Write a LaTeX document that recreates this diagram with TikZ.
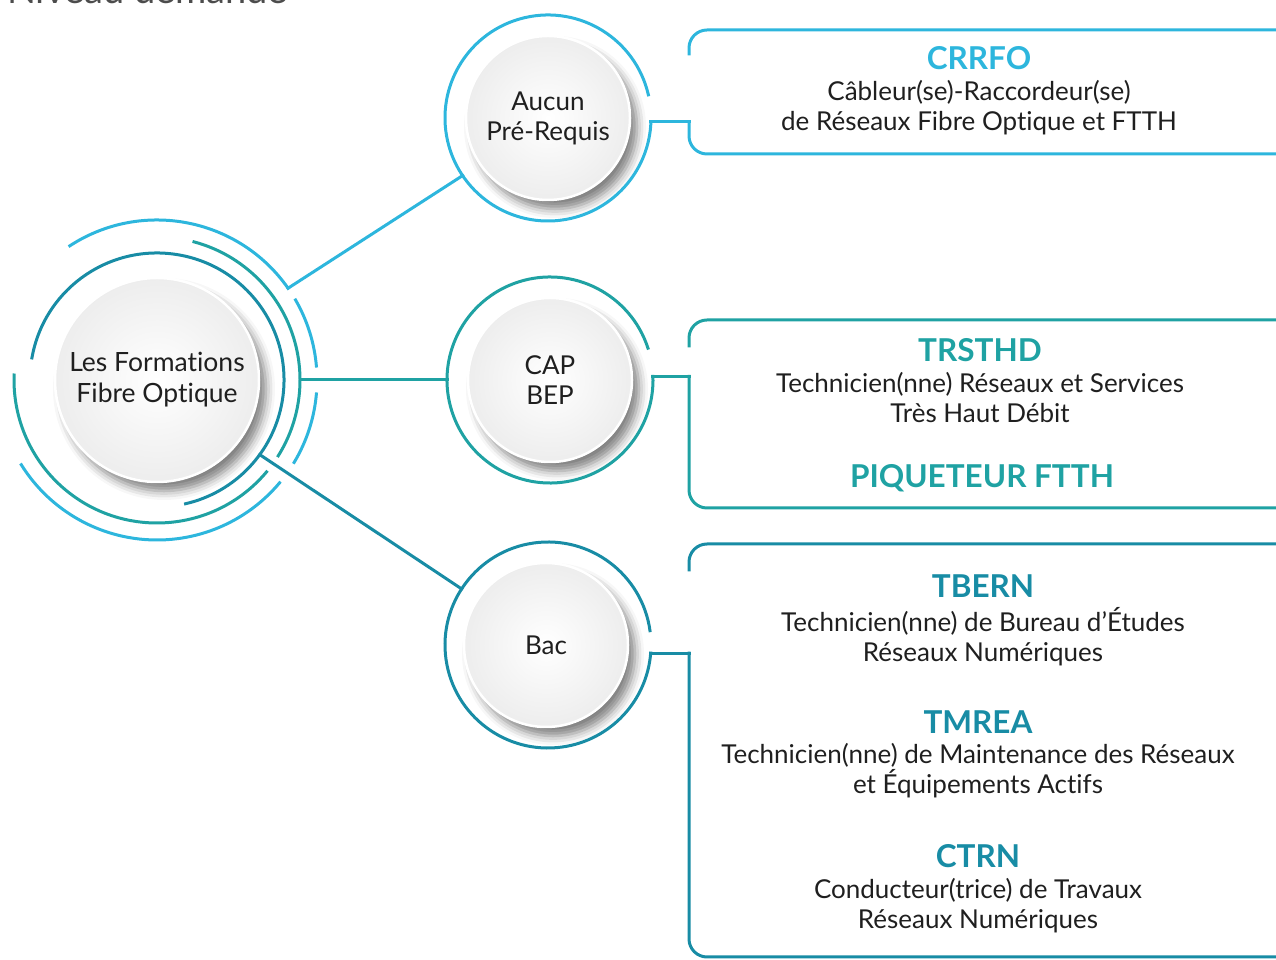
\documentclass[tikz,border=0pt]{standalone}
\usepackage{fontspec}
\setmainfont{Lato}[Ligatures={NoCommon}]
\usetikzlibrary{positioning,shadows.blur}
\definecolor{fibcyan}{HTML}{2DB6DD}
\definecolor{fibteal}{HTML}{1FA2A3}
\definecolor{fibblue}{HTML}{188CA5}

\begin{document}
\begin{tikzpicture}[x=1pt,y=1pt,
        every node/.style={font=\fontsize{26}{30}\selectfont,text=black!88,align=center,inner sep=0pt},
        disc/.style={circle,minimum size=#1,inner color=white,outer color=black!7,draw=white,line width=2.5pt,
          blur shadow={shadow xshift=7pt,shadow yshift=-9pt,shadow blur radius=9pt,shadow opacity=50}},
        ringc/.style={circle,minimum size=#1,outer sep=0pt},
        fibline/.style={line width=3pt,line cap=rect},
        boxtitle/.style={font=\fontsize{31.5}{34}\bfseries\selectfont},
        boxbody/.style={node distance=10pt}]
   \useasboundingbox (0,0) rectangle (1276,960);
   \node[anchor=base west,font=\fontsize{38}{42}\selectfont,text=black!70] (niv) at (7,956) {Niveau demandé};

   \node[disc=204,font=\fontsize{26.5}{31}\selectfont] (main) at (157,580) {Les Formations\\Fibre Optique};
   \node[disc=164] (auc) at (548,842) {Aucun\\Pré-Requis};
   \node[disc=164] (cap) at (550,580) {CAP\\BEP};
   \node[disc=164] (bac) at (546,315) {Bac};
   \node[ringc=206] (aucR) at (auc) {};
   \node[ringc=206] (capR) at (cap) {};
   \node[ringc=206] (bacR) at (548,315) {};
   \coordinate (kx) at (689,0);

   \draw[fibline,fibblue] (main.center) ++(170:127) arc[start angle=170,end angle=-77,radius=127];
   \foreach \a/\b in {75/-32,-40/-182}
      \draw[fibline,fibteal] (main.center) ++(\a:143) arc[start angle=\a,end angle=\b,radius=143];
   \foreach \a/\b in {123/35,30/5,-5/-31,-40/-148}
      \draw[fibline,fibcyan] (main.center) ++(\a:160) arc[start angle=\a,end angle=\b,radius=160];
   \path (main.center) ++(35:160) coordinate (m1)
         (main.center) ++(0:143) coordinate (m2)
         (main.center) ++(-36:127) coordinate (m3);

   \draw[fibline,fibcyan] (m1) -- (aucR.214);
   \draw[fibline,fibteal] (m2) -- (capR.180);
   \draw[fibline,fibblue] (m3) -- (bacR.147);

   \draw[fibline,fibcyan] (aucR.13) arc[start angle=13,end angle=358,radius=103] coordinate (a1);
   \draw[fibline,fibteal] (capR.18) arc[start angle=18,end angle=362,radius=103] coordinate (c1);
   \draw[fibline,fibblue] (bacR.8) arc[start angle=8,end angle=355.5,radius=103] coordinate (b1);

   \draw[fibline,fibcyan] (a1) -- (a1 -| kx);
   \draw[fibline,fibcyan,rounded corners=18pt] (a1 -| kx) -- (689,806) -- (1300,806) -- (1300,930) -- (689,930) -- (689,906);
   \draw[fibline,fibteal] (c1) -- (c1 -| kx);
   \draw[fibline,fibteal,rounded corners=18pt] (c1 -| kx) -- (689,452) -- (1300,452) -- (1300,640) -- (689,640) -- (689,614);
   \draw[fibline,fibblue] (b1) -- (b1 -| kx);
   \draw[fibline,fibblue,rounded corners=18pt] (b1 -| kx) -- (689,3) -- (1300,3) -- (1300,416) -- (689,416) -- (689,390);

   \node[boxtitle,text=fibcyan] (crrfo) at (979,902) {CRRFO};
   \node[boxbody,below=of crrfo] (crrfoT) {Câbleur(se)-Raccordeur(se)\\de Réseaux Fibre Optique et FTTH};
   \node[boxtitle,text=fibteal] (trsthd) at (980,610) {TRSTHD};
   \node[boxbody,below=of trsthd] (trsthdT) {Technicien(nne) Réseaux et Services\\Très Haut Débit};
   \node[boxtitle,text=fibteal] (piq) at (982,482) {PIQUETEUR FTTH};
   \node[boxtitle,text=fibblue] (tbern) at (983,374) {TBERN};
   \node[boxbody,below=of tbern] (tbernT) {Technicien(nne) de Bureau d’Études\\Réseaux Numériques};
   \node[boxtitle,text=fibblue] (tmrea) at (978,238) {TMREA};
   \node[boxbody,below=of tmrea] (tmreaT) {Technicien(nne) de Maintenance des Réseaux\\et Équipements Actifs};
   \node[boxtitle,text=fibblue] (ctrn) at (978,104) {CTRN};
   \node[boxbody,below=of ctrn] (ctrnT) {Conducteur(trice) de Travaux\\Réseaux Numériques};
\end{tikzpicture}
\end{document}
